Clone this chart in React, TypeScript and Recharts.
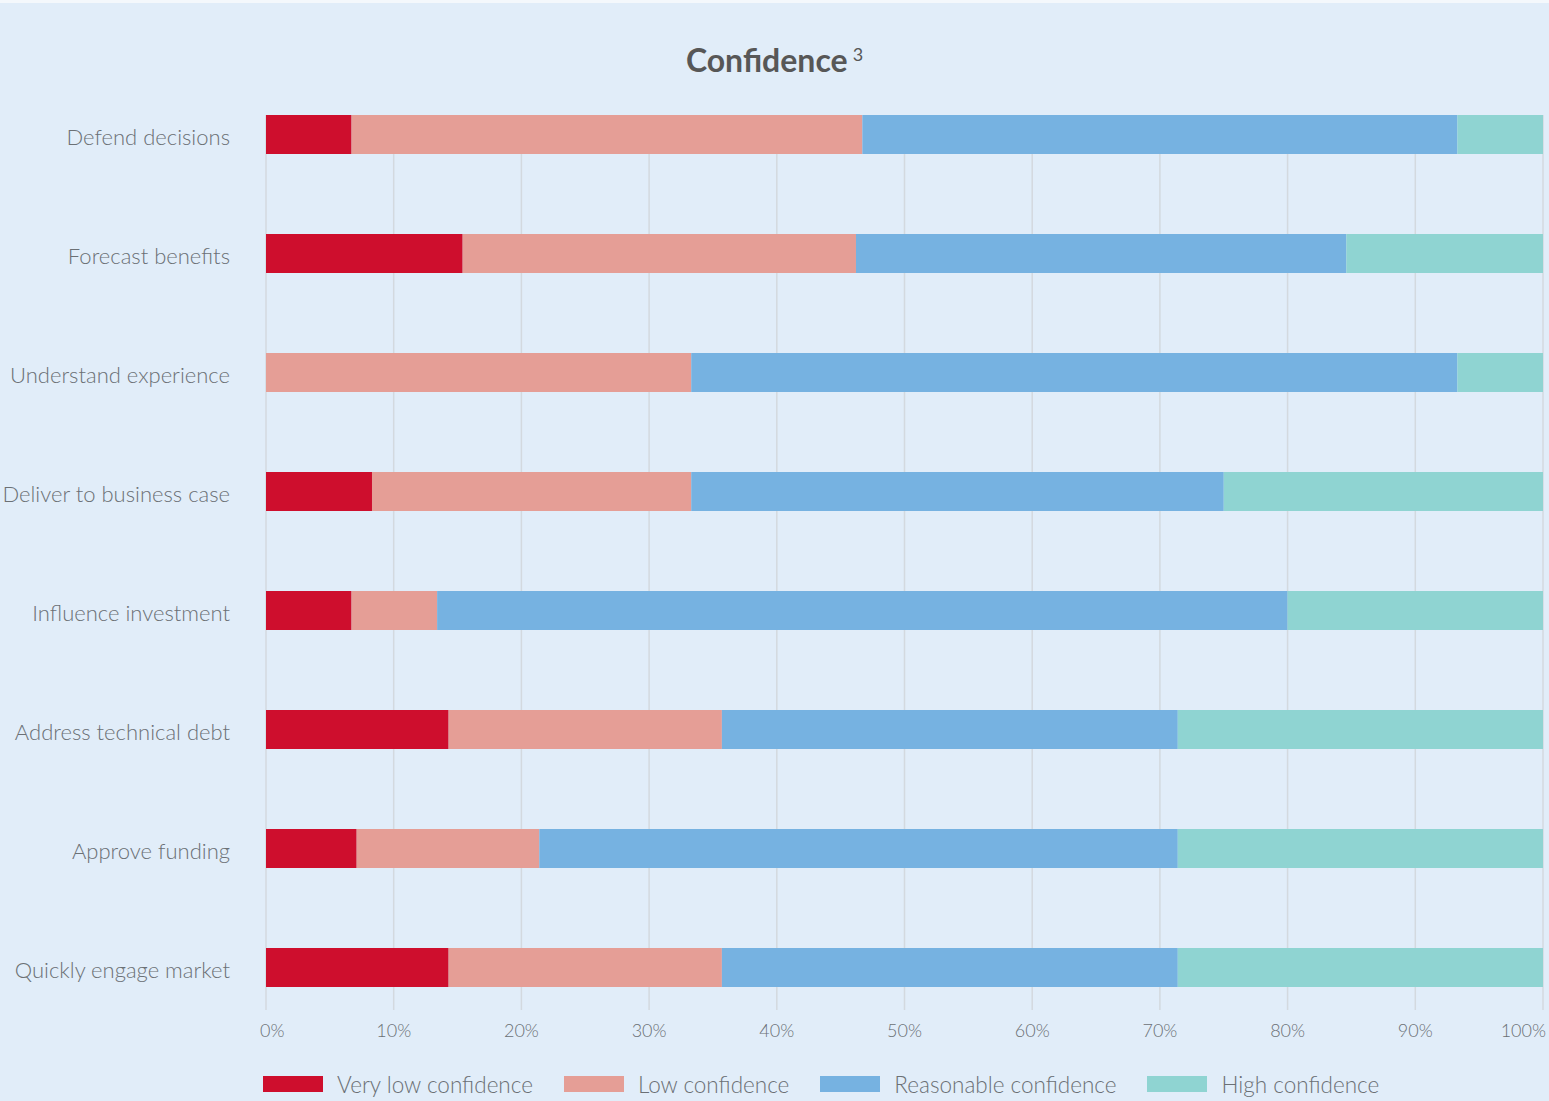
import React from 'react';
import { BarChart, Bar, XAxis, YAxis, CartesianGrid, Legend } from 'recharts';

const categories = [
  'Defend decisions',
  'Forecast benefits',
  'Understand experience',
  'Deliver to business case',
  'Influence investment',
  'Address technical debt',
  'Approve funding',
  'Quickly engage market',
];
const veryLow = [6.7, 15.4, 0, 8.3, 6.7, 14.3, 7.1, 14.3];
const low = [40, 30.8, 33.3, 25, 6.7, 21.4, 14.3, 21.4];
const reasonable = [46.6, 38.4, 60, 41.7, 66.6, 35.7, 50, 35.7];
const high = [6.7, 15.4, 6.7, 25, 20, 28.6, 28.6, 28.6];
const xTicks = [0, 10, 20, 30, 40, 50, 60, 70, 80, 90, 100];

const seriesNames = ['Very low confidence', 'Low confidence', 'Reasonable confidence', 'High confidence'];
const seriesKeys = ['veryLow', 'low', 'reasonable', 'high'];
const seriesColors = ['#CE0E2D', '#E59E96', '#76B2E1', '#8FD4D2'];

const data = categories.map((c, i) => ({
  name: c,
  veryLow: veryLow[i],
  low: low[i],
  reasonable: reasonable[i],
  high: high[i],
}));

const FONT = 'Lato, "Open Sans", sans-serif';
const TEXT = '#6b7075';
const BG = '#E1EDF9';

const XTick = (props: any) => {
  const { x, y, payload, index } = props;
  let anchor: 'middle' | 'start' | 'end' = 'middle';
  let dx = 0;
  if (index === 0) { anchor = 'start'; dx = -6; }
  if (index === xTicks.length - 1) { anchor = 'end'; dx = 3; }
  return (
    <text x={x + dx} y={y - 3} textAnchor={anchor} dominantBaseline="central"
      fill={TEXT} fontSize={18} fontFamily={FONT} fontWeight={300}>
      {payload.value}%
    </text>
  );
};

const YTick = (props: any) => {
  const { y, payload } = props;
  return (
    <text x={230} y={y + 1.5} textAnchor="end" dominantBaseline="central"
      fill={TEXT} fontSize={22} fontFamily={FONT} fontWeight={300}>
      {payload.value}
    </text>
  );
};

const GridLine = (props: any) => {
  const { x1, x2, y1, y2 } = props;
  return <line x1={x1} x2={x2} y1={y1 + 40} y2={y2 - 17} stroke="#d3d9df" strokeWidth={1.5} />;
};

const LegendContent = () => (
  <div style={{ display: 'flex', alignItems: 'center', height: 34, paddingLeft: 263, fontFamily: FONT }}>
    {seriesNames.map((n, i) => (
      <div key={n} style={{ display: 'flex', alignItems: 'center', marginRight: 31 }}>
        <div style={{ width: 60, height: 16, background: seriesColors[i], marginRight: 14 }} />
        <span style={{ fontSize: 22.5, fontWeight: 300, color: TEXT }}>{n}</span>
      </div>
    ))}
  </div>
);

export default function App() {
  return (
    <div style={{ position: 'absolute', left: 0, top: 0, width: 1549, height: 1101, background: '#f4f8fc' }}>
      <div style={{ position: 'absolute', left: 0, top: 3, width: 1549, height: 1098, background: BG }} />
      <div style={{ position: 'absolute', left: 0, top: 40, width: 1549, textAlign: 'center', fontFamily: FONT,
        color: '#575757', fontSize: 32, fontWeight: 700, lineHeight: '40px' }}>
        Confidence<sup style={{ fontSize: 18, fontWeight: 400, marginLeft: 5, verticalAlign: 'top', position: 'relative', top: -6 }}>3</sup>
      </div>
      <div style={{ position: 'absolute', left: 0, top: 0 }}>
        <BarChart width={1549} height={1101} data={data} layout="vertical"
          margin={{ top: 75, right: 6, bottom: 0, left: 0 }} barSize={39}>
          <CartesianGrid horizontal={false} vertical={GridLine as any} />
          <XAxis type="number" domain={[0, 100]} ticks={xTicks} allowDataOverflow
            axisLine={false} tickLine={false} tickMargin={0} height={40} tick={<XTick />} interval={0} />
          <YAxis type="category" dataKey="name" width={266} axisLine={false} tickLine={false}
            tick={<YTick />} interval={0} />
          <Legend verticalAlign="bottom" align="left" content={<LegendContent />}
            wrapperStyle={{ left: 0, width: 1549, height: 34 }} />
          {seriesKeys.map((k, i) => (
            <Bar key={k} dataKey={k} name={seriesNames[i]} stackId="a" fill={seriesColors[i]} isAnimationActive={false} />
          ))}
        </BarChart>
      </div>
    </div>
  );
}
